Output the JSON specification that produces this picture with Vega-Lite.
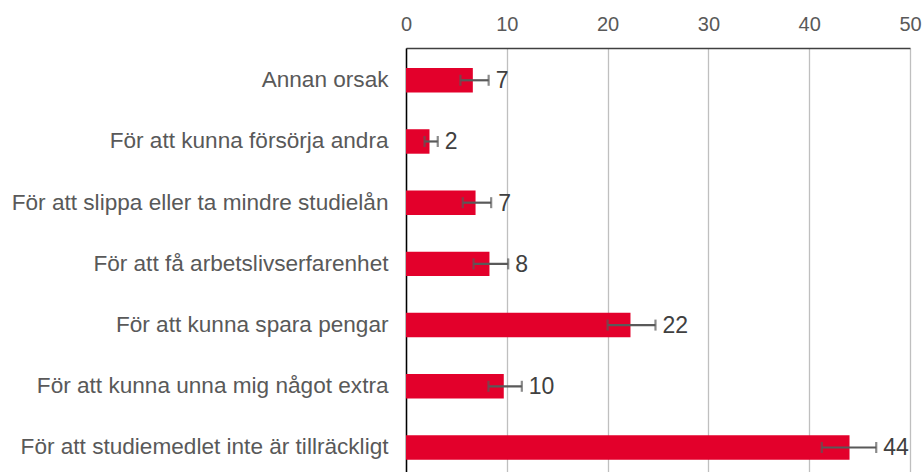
{
  "$schema": "https://vega.github.io/schema/vega-lite/v6.json",
  "autosize": "none",
  "width": 504,
  "height": 424,
  "padding": {"left": 406, "top": 48, "right": 14, "bottom": 0},
  "background": "white",
  "data": {
    "values": [
      {"orsak": "Annan orsak", "andel": 6.63, "lo": 5.4, "hi": 8.2, "etikett": "7"},
      {"orsak": "För att kunna försörja andra", "andel": 2.33, "lo": 1.84, "hi": 3.15, "etikett": "2"},
      {"orsak": "För att slippa eller ta mindre studielån", "andel": 6.9, "lo": 5.63, "hi": 8.45, "etikett": "7"},
      {"orsak": "För att få arbetslivserfarenhet", "andel": 8.28, "lo": 6.7, "hi": 10.14, "etikett": "8"},
      {"orsak": "För att kunna spara pengar", "andel": 22.27, "lo": 20.0, "hi": 24.75, "etikett": "22"},
      {"orsak": "För att kunna unna mig något extra", "andel": 9.7, "lo": 8.18, "hi": 11.49, "etikett": "10"},
      {"orsak": "För att studiemedlet inte är tillräckligt", "andel": 44.0, "lo": 41.25, "hi": 46.65, "etikett": "44"}
    ]
  },
  "encoding": {
    "y": {
      "field": "orsak",
      "type": "nominal",
      "sort": null,
      "title": null,
      "scale": {"paddingInner": 0.6, "paddingOuter": 0.264, "align": 0.62},
      "axis": {
        "ticks": false,
        "labelPadding": 18,
        "labelFont": "Liberation Sans",
        "labelFontSize": 22.6,
        "labelColor": "#595959",
        "labelLimit": 420,
        "domainColor": "#000000",
        "domainWidth": 1.5,
        "grid": false
      }
    }
  },
  "layer": [
    {
      "mark": {"type": "bar", "color": "#E3002B"},
      "encoding": {
        "x": {
          "field": "andel",
          "type": "quantitative",
          "title": null,
          "scale": {"domain": [0, 50], "nice": false},
          "axis": {
            "orient": "top",
            "values": [0, 10, 20, 30, 40, 50],
            "ticks": false,
            "tickSize": 0,
            "labelPadding": 14,
            "labelFont": "Liberation Sans",
            "labelFontSize": 20,
            "labelColor": "#595959",
            "domainColor": "#404040",
            "domainWidth": 1.5,
            "grid": true,
            "gridColor": "#BFBFBF",
            "gridWidth": 1.3,
            "labelFlush": false
          }
        }
      }
    },
    {
      "mark": {"type": "rule", "color": "#595959", "strokeWidth": 2.2},
      "encoding": {
        "x": {"field": "lo", "type": "quantitative"},
        "x2": {"field": "hi"}
      }
    },
    {
      "mark": {"type": "tick", "color": "#595959", "thickness": 2.2, "size": 11, "orient": "vertical"},
      "encoding": {"x": {"field": "lo", "type": "quantitative"}}
    },
    {
      "mark": {"type": "tick", "color": "#595959", "thickness": 2.2, "size": 11, "orient": "vertical"},
      "encoding": {"x": {"field": "hi", "type": "quantitative"}}
    },
    {
      "mark": {"type": "text", "align": "left", "baseline": "middle", "dx": 7, "dy": 1, "font": "Liberation Sans", "fontSize": 23, "color": "#404040"},
      "encoding": {
        "x": {"field": "hi", "type": "quantitative"},
        "text": {"field": "etikett", "type": "nominal"}
      }
    }
  ],
  "config": {"view": {"stroke": null}}
}
